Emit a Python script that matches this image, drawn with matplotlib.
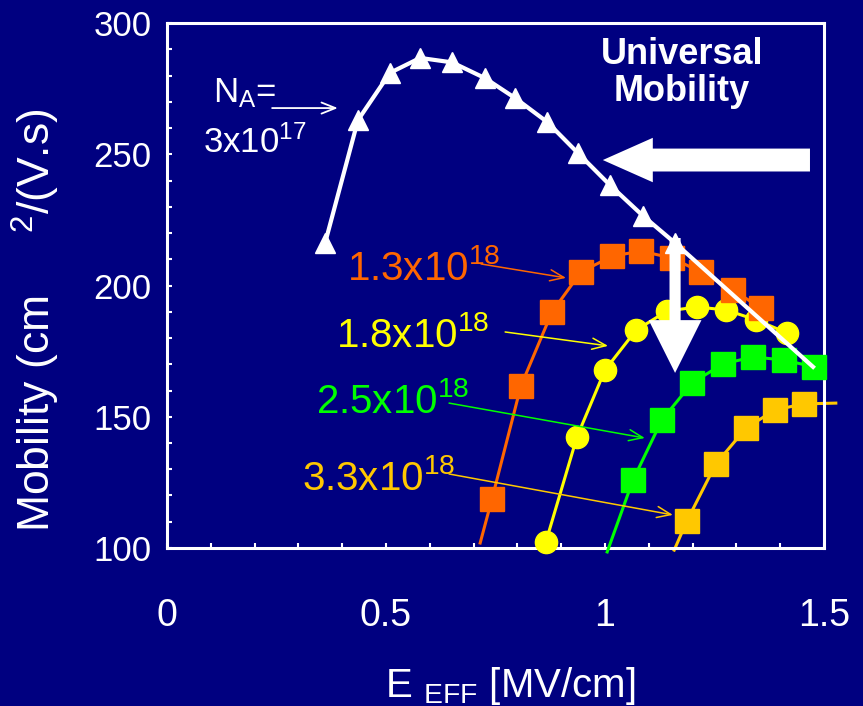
import matplotlib
matplotlib.use('Agg')
import matplotlib.pyplot as plt
import numpy as np

plt.rcParams['font.family'] = ['Liberation Sans', 'DejaVu Sans']
plt.rcParams['mathtext.default'] = 'regular'

bg = '#000080'
c13 = '#ff6600'
c18 = '#ffff00'
c25 = '#00ff00'
c33 = '#ffc800'

# universal mobility, N_A = 3x10^17 (triangles), line runs on past the last marker
e_univ = [0.361, 0.436, 0.509, 0.578, 0.651, 0.726, 0.795, 0.868, 0.938, 1.011, 1.087, 1.160]
mu_univ = [216.2, 263.0, 281.0, 286.7, 285.0, 279.0, 271.4, 262.3, 250.5, 238.3, 226.5, 216.2]
e_univ_end = [1.475]
mu_univ_end = [169.0]

# N_A = 1.3x10^18
e_13 = [0.742, 0.808, 0.879, 0.945, 1.016, 1.082, 1.153, 1.219, 1.292, 1.356]
mu_13 = [118.7, 161.7, 189.9, 205.1, 211.2, 213.1, 210.5, 205.1, 198.3, 191.4]
e_13_start = [0.715]
mu_13_start = [101.9]

# N_A = 1.8x10^18
e_18 = [0.865, 0.936, 1.000, 1.071, 1.142, 1.210, 1.276, 1.345, 1.416]
mu_18 = [102.3, 142.3, 167.8, 183.0, 190.3, 191.8, 190.7, 186.9, 181.9]

# N_A = 2.5x10^18
e_25 = [1.064, 1.130, 1.199, 1.269, 1.338, 1.409, 1.477]
mu_25 = [125.9, 148.8, 162.9, 170.1, 172.8, 171.6, 169.0]
e_25_start = [1.005]
mu_25_start = [98.5]

# N_A = 3.3x10^18
e_33 = [1.187, 1.253, 1.322, 1.388, 1.454]
mu_33 = [110.3, 132.0, 145.7, 152.6, 154.9]
e_33_start = [1.158]
mu_33_start = [99.2]
e_33_end = [1.527]
mu_33_end = [155.2]

fig = plt.figure(figsize=(8.63, 7.06), dpi=100, facecolor=bg)
ax = fig.add_axes([0.1935, 0.2238, 0.7613, 0.7436])
ax.set_facecolor(bg)
ax.set_xlim(0, 1.5)
ax.set_ylim(100, 300)

# curves, back to front
ax.plot(e_33_start + e_33 + e_33_end, mu_33_start + mu_33 + mu_33_end, color=c33, lw=2.2, clip_on=False, zorder=2)
ax.plot(e_33, mu_33, 's', color=c33, ms=17, clip_on=False, zorder=2)
ax.plot(e_25_start + e_25, mu_25_start + mu_25, color=c25, lw=2.2, clip_on=False, zorder=3)
ax.plot(e_25, mu_25, 's', color=c25, ms=17, clip_on=False, zorder=3)
ax.plot(e_18, mu_18, color=c18, lw=2.2, clip_on=False, zorder=4)
ax.plot(e_18, mu_18, 'o', color=c18, ms=16, clip_on=False, zorder=4)
ax.plot(e_13_start + e_13, mu_13_start + mu_13, color=c13, lw=2.2, clip_on=False, zorder=5)
ax.plot(e_13, mu_13, 's', color=c13, ms=17, clip_on=False, zorder=5)
ax.plot(e_univ + e_univ_end, mu_univ + mu_univ_end, color='white', lw=3, clip_on=False, zorder=6)
ax.plot(e_univ, mu_univ, '^', color='white', ms=15, clip_on=False, zorder=6)

# big arrows
ax.annotate('', xy=(0.995, 247.8), xytext=(1.468, 247.8),
            arrowprops=dict(arrowstyle='simple,head_length=36,head_width=32,tail_width=16.5',
                            color='white', lw=0, mutation_scale=1, shrinkA=0, shrinkB=0), zorder=8)
ax.annotate('', xy=(1.160, 166.7), xytext=(1.160, 218.1),
            arrowprops=dict(arrowstyle='simple,head_length=38,head_width=38,tail_width=8',
                            color='white', lw=0, mutation_scale=1, shrinkA=0, shrinkB=0), zorder=8)

# labels
ax.text(1.176, 281, 'Universal\nMobility', color='white', fontsize=26, fontweight='bold',
        ha='center', va='center', linespacing=1.1, zorder=9)
ax.text(0.105, 269.9, 'N$_A$=', color='white', fontsize=25, va='baseline')
ax.text(0.082, 250.5, '3x10$^{17}$', color='white', fontsize=25, va='baseline')
ax.annotate('', xy=(0.390, 267.6), xytext=(0.240, 267.6),
            arrowprops=dict(arrowstyle='->,head_length=10,head_width=4', color='white', lw=1.3,
                            mutation_scale=1, shrinkA=0, shrinkB=0))

labels = [('1.3x10$^{18}$', c13, (0.411, 202.1), (0.717, 208.2), (0.911, 202.9)),
          ('1.8x10$^{18}$', c18, (0.386, 176.6), (0.772, 182.3), (1.007, 177.0)),
          ('2.5x10$^{18}$', c25, (0.340, 151.4), (0.644, 155.2), (1.091, 141.9)),
          ('3.3x10$^{18}$', c33, (0.308, 122.1), (0.644, 128.2), (1.155, 112.6))]
for txt, col, pos, a0, a1 in labels:
    ax.text(pos[0], pos[1], txt, color=col, fontsize=29, va='baseline', zorder=9)
    ax.annotate('', xy=a1, xytext=a0,
                arrowprops=dict(arrowstyle='->,head_length=10,head_width=4', color=col, lw=1.1,
                                mutation_scale=1, shrinkA=0, shrinkB=0), zorder=9)

# frame and ticks
for s in ax.spines.values():
    s.set_color('white')
    s.set_linewidth(2.2)
ax.set_xticks([0, 0.5, 1, 1.5])
ax.set_xticklabels(['0', '0.5', '1', '1.5'])
ax.set_xticks(np.arange(0, 1.51, 0.1), minor=True)
ax.set_yticks([100, 150, 200, 250, 300])
ax.set_yticks(np.arange(100, 301, 10), minor=True)
ax.tick_params(which='both', direction='in', length=3.6, width=1.5, color='white',
               top=False, right=False, labelcolor='white')
ax.tick_params(axis='x', labelsize=27, pad=36)
ax.tick_params(axis='y', labelsize=25, pad=11)

fig.text(0.591, 0.0127, 'E $_{EFF}$ [MV/cm]', color='white', fontsize=29, ha='center', va='baseline')
fig.text(0.042, 0.247, 'Mobility (cm     $^{2}$/(V.s)', color='white', fontsize=32,
         rotation=90, ha='center', va='bottom')

fig.savefig('out.png', dpi=100, facecolor=bg)
